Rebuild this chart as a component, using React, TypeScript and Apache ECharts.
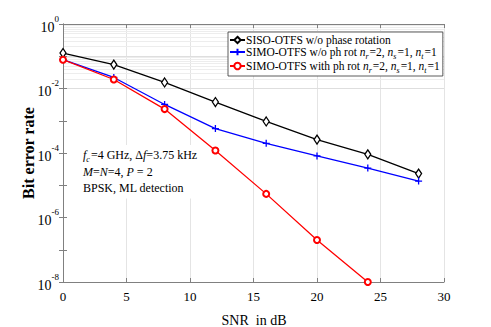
import React, { useEffect, useRef } from "react";
import * as echarts from "echarts";

const snr = [0, 4, 8, 12, 16, 20, 24, 28];
const snrRot = [0, 4, 8, 12, 16, 20, 24];
const berSiso = [0.126, 0.055, 0.0154, 0.0038, 9.5e-4, 2.6e-4, 9.1e-5, 2.3e-5];
const berSimoNoRot = [0.078, 0.022, 0.0032, 5.7e-4, 2.0e-4, 8.1e-5, 3.4e-5, 1.35e-5];
const berSimoRot = [0.078, 0.019, 0.0023, 1.2e-4, 5.4e-6, 2.0e-7, 1.0e-8];
const xTicks = [0, 5, 10, 15, 20, 25, 30];
const yExponents = [0, -2, -4, -6, -8];

const FONT = "'Liberation Serif', 'Times New Roman', serif";
const NAME_SISO = "SISO-OTFS w/o phase rotation";
const NAME_NOROT = "SIMO-OTFS w/o ph rot";
const NAME_ROT = "SIMO-OTFS with ph rot";

export default function App() {
  const ref = useRef<HTMLDivElement>(null);
  useEffect(() => {
    if (!ref.current) return;
    const chart = echarts.init(ref.current, undefined, { renderer: "svg" });
    const minorLines: any[] = [];
    for (let k = -8; k < 0; k++) {
      for (let d = 2; d <= 9; d++) minorLines.push({ yAxis: d * Math.pow(10, k) });
    }
    const majorLines: any[] = [];
    for (let k = -7; k < 0; k++) majorLines.push({ yAxis: Math.pow(10, k) });
    const FS = 11.5;
    const ns = { fontFamily: FONT, fontSize: FS, color: "#000" };
    const it = { fontFamily: FONT, fontSize: FS, fontStyle: "italic", color: "#000" };
    const sb = { fontFamily: FONT, fontSize: 8, fontStyle: "italic", color: "#000", verticalAlign: "bottom", padding: [0, 1, 0, 0] };
    const legendRich = {
      n: { ...ns, lineHeight: 16 },
      i: { ...it, lineHeight: 16 },
      s: { ...sb, lineHeight: 16 },
    };
    const subs = "{i|n}{s|r}{n|=2, }{i|n}{s|s}{n|=1, }{i|n}{s|t}{n|=1}";
    const axisCommon = {
      axisLine: { show: true, lineStyle: { color: "#808080", width: 1 } },
      axisTick: { inside: true, length: 4, lineStyle: { color: "#808080" } },
    };
    const option: any = {
      animation: false,
      grid: { left: 63, right: 47, top: 24, bottom: 45, containLabel: false, outerBoundsMode: "none" },
      xAxis: [
        {
          type: "value",
          min: 0,
          max: 30,
          interval: 5,
          ...axisCommon,
          axisLabel: {
            fontFamily: FONT,
            fontSize: 13,
            color: "#000",
            margin: 8,
            formatter: (v: number) => (xTicks.includes(v) ? String(v) : ""),
          },
          splitLine: { show: true, lineStyle: { color: "#e4e4e4", width: 1 } },
        },
        {
          type: "value",
          position: "top",
          min: 0,
          max: 30,
          interval: 5,
          ...axisCommon,
          axisLabel: { show: false },
          splitLine: { show: false },
        },
      ],
      yAxis: [
        {
          type: "log",
          logBase: 10,
          min: 1e-8,
          max: 1,
          splitNumber: 8,
          ...axisCommon,
          axisLabel: {
            margin: 4,
            formatter: (v: number) => {
              const e = Math.round(Math.log10(v));
              if (!yExponents.includes(e)) return "";
              return "{b|10}{s|" + e + "}";
            },
            rich: {
              b: { fontFamily: FONT, fontSize: 14, color: "#000", lineHeight: 20, verticalAlign: "bottom" },
              s: { fontFamily: FONT, fontSize: 9, color: "#000", lineHeight: 20, verticalAlign: "top" },
            },
          },
          splitLine: { show: false },
        },
        {
          type: "log",
          logBase: 10,
          min: 1e-8,
          max: 1,
          splitNumber: 8,
          position: "right",
          ...axisCommon,
          axisLabel: { show: false },
          splitLine: { show: false },
        },
      ],
      legend: {
        left: 228,
        top: 32,
        orient: "vertical",
        itemGap: 0,
        itemWidth: 15,
        itemHeight: 8,
        padding: [2, 3, 2, 1],
        backgroundColor: "#fff",
        borderColor: "#333",
        borderWidth: 0.8,
        borderRadius: 0,
        data: [NAME_SISO, NAME_NOROT, NAME_ROT],
        formatter: (name: string) => {
          if (name === NAME_NOROT) return "{n|SIMO-OTFS w/o ph rot }" + subs;
          if (name === NAME_ROT) return "{n|SIMO-OTFS with ph rot }" + subs;
          return "{n|" + name + "}";
        },
        textStyle: { fontFamily: FONT, fontSize: FS, color: "#000", padding: [0, 0, 0, -4], rich: legendRich },
      },
      graphic: [
        {
          type: "text",
          left: 80,
          top: 145,
          z: 10,
          style: {
            text:
              "{i|f}{s|c}{n|=4 GHz, Δ}{i|f}{n|=3.75 kHz}\n{i|M}{n|=}{i|N}{n|=4, }{i|P}{n| = 2}\n{n|BPSK, ML detection}",
            backgroundColor: "#fff",
            padding: [2, 3, 2, 3],
            lineHeight: 16.5,
            rich: {
              n: { ...ns, fontSize: 12, lineHeight: 16.5 },
              i: { ...it, fontSize: 12, lineHeight: 16.5 },
              s: { ...sb, lineHeight: 16.5 },
            },
          },
        },
        {
          type: "text",
          x: 28,
          y: 153,
          rotation: Math.PI / 2,
          style: {
            text: "Bit error rate",
            fontFamily: FONT,
            fontSize: 16,
            fontWeight: "bold",
            fill: "#000",
            textAlign: "center",
            textVerticalAlign: "middle",
          },
        },
        {
          type: "text",
          x: 254,
          y: 320,
          style: {
            text: "SNR  in dB",
            fontFamily: FONT,
            fontSize: 14,
            fill: "#000",
            textAlign: "center",
            textVerticalAlign: "middle",
          },
        },
      ],
      series: [
        {
          type: "line",
          name: "grid",
          data: [],
          silent: true,
          markLine: {
            silent: true,
            symbol: "none",
            label: { show: false },
            lineStyle: { color: "#ededed", width: 1, type: "solid" },
            data: minorLines,
            z: 0,
          },
          z: 0,
        },
        {
          type: "line",
          name: "grid2",
          data: [],
          silent: true,
          markLine: {
            silent: true,
            symbol: "none",
            label: { show: false },
            lineStyle: { color: "#dedede", width: 1, type: "solid" },
            data: majorLines,
            z: 0,
          },
          z: 0,
        },
        {
          type: "line",
          name: NAME_SISO,
          data: snr.map((x, i) => [x, berSiso[i]]),
          symbol: "diamond",
          symbolSize: [6, 9],
          lineStyle: { color: "#000", width: 1.3 },
          itemStyle: { color: "#fff", borderColor: "#000", borderWidth: 1.3 },
          z: 5,
        },
        {
          type: "line",
          name: NAME_NOROT,
          data: snr.map((x, i) => [x, berSimoNoRot[i]]),
          symbol: "path://M0,5L10,5M5,0L5,10",
          symbolSize: 7,
          lineStyle: { color: "#0000ff", width: 1.3 },
          itemStyle: { color: "#0000ff", borderColor: "#0000ff", borderWidth: 1.3 },
          z: 5,
        },
        {
          type: "line",
          name: NAME_ROT,
          data: snrRot.map((x, i) => [x, berSimoRot[i]]),
          symbol: "emptyCircle",
          symbolSize: 6,
          lineStyle: { color: "#ff0000", width: 1.3 },
          itemStyle: { color: "#ff0000", borderColor: "#ff0000", borderWidth: 1.3 },
          z: 5,
        },
      ],
    };
    chart.setOption(option);
    return () => chart.dispose();
  }, []);
  return <div ref={ref} style={{ width: 491, height: 327, position: "absolute", left: 0, top: 0 }} />;
}
